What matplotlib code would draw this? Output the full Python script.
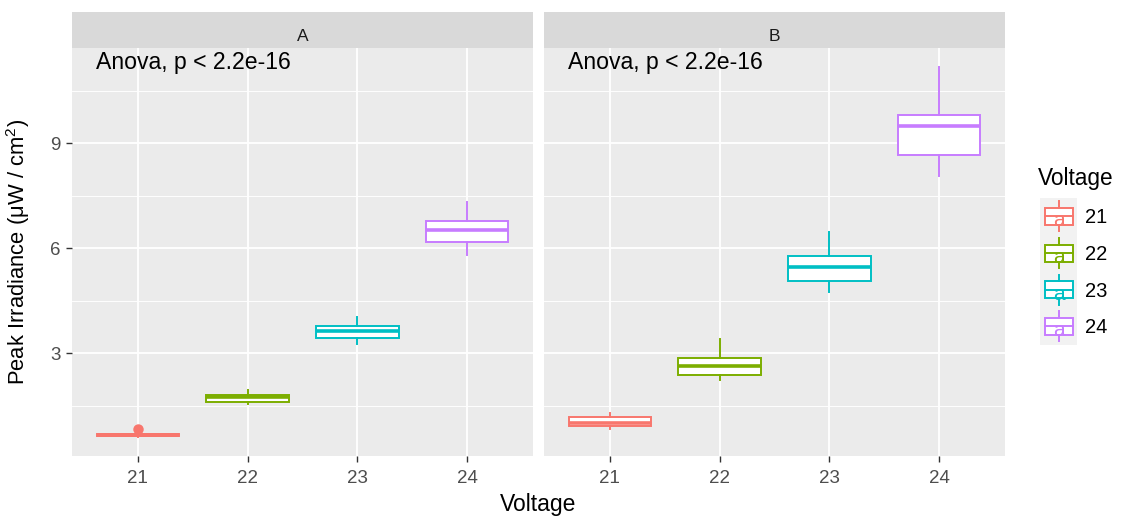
import matplotlib
matplotlib.use("Agg")
import matplotlib.pyplot as plt
from matplotlib.patches import Rectangle
from matplotlib.ticker import FixedLocator

plt.rcParams['font.family'] = ['Liberation Sans', 'DejaVu Sans']
plt.rcParams['mathtext.fontset'] = 'custom'
plt.rcParams['mathtext.rm'] = 'Liberation Sans'
plt.rcParams['mathtext.it'] = 'Liberation Sans'
plt.rcParams['mathtext.default'] = 'regular'

# ---------------- data ----------------
panels = ["A", "B"]
voltages = ["21", "22", "23", "24"]
colors = ["#F8766D", "#7CAE00", "#00BFC4", "#C77CFF"]

# box statistics per panel: whislo, q1, median, q3, whishi
A_whislo = [0.60, 1.55, 3.27, 5.81]
A_q1     = [0.64, 1.61, 3.44, 6.17]
A_med    = [0.67, 1.75, 3.65, 6.52]
A_q3     = [0.69, 1.81, 3.78, 6.79]
A_whishi = [0.74, 1.95, 4.05, 7.33]
A_fliers = [[0.85], [], [], []]

B_whislo = [0.83, 2.24, 4.76, 8.07]
B_q1     = [0.92, 2.38, 5.07, 8.65]
B_med    = [1.00, 2.64, 5.47, 9.49]
B_q3     = [1.17, 2.86, 5.78, 9.81]
B_whishi = [1.30, 3.41, 6.46, 11.18]
B_fliers = [[], [], [], []]

anova_label = "Anova, p < 2.2e-16"
y_ticks = [3, 6, 9]

panel_stats = {
    "A": (A_whislo, A_q1, A_med, A_q3, A_whishi, A_fliers),
    "B": (B_whislo, B_q1, B_med, B_q3, B_whishi, B_fliers),
}

# ---------------- layout ----------------
W, H = 1125, 517
fig = plt.figure(figsize=(W / 100, H / 100), dpi=100)

def rect(x0, y0, x1, y1):
    return [x0 / W, 1 - y1 / H, (x1 - x0) / W, (y1 - y0) / H]

panel_x = {"A": (72, 533), "B": (544, 1005)}
py0, py1 = 48, 456
sy0 = 12
YLIM = (0.066, 11.72)

for p in panels:
    x0, x1 = panel_x[p]
    ax = fig.add_axes(rect(x0, py0, x1, py1))
    ax.set_facecolor("#EBEBEB")
    for s in ax.spines.values():
        s.set_visible(False)

    wl, q1, md, q3, wh, fl = panel_stats[p]
    pos = list(range(1, len(voltages) + 1))
    ax.set_xlim(0.4, len(voltages) + 0.6)
    ax.set_ylim(*YLIM)
    ax.yaxis.set_major_locator(FixedLocator(y_ticks))
    ax.yaxis.set_minor_locator(FixedLocator([1.5, 4.5, 7.5, 10.5]))
    ax.set_xticks(pos)
    ax.set_xticklabels(voltages)
    ax.grid(which="major", color="white", linewidth=1.3)
    ax.grid(which="minor", axis="y", color="white", linewidth=0.65)
    ax.set_axisbelow(True)
    ax.tick_params(axis="both", which="major", colors="#333333", length=4.3,
                   width=1.0, labelsize=13.5, labelcolor="#4D4D4D", pad=4)
    ax.tick_params(axis="x", which="major", pad=6)
    ax.tick_params(axis="both", which="minor", length=0)
    if p != "A":
        ax.tick_params(axis="y", labelleft=False, length=0)
    else:
        ax.set_ylabel("Peak Irradiance (μW / cm$^2$)", fontsize=15.8, color="black",
                      labelpad=13)

    for i in range(len(voltages)):
        st = [dict(whislo=wl[i], q1=q1[i], med=md[i], q3=q3[i], whishi=wh[i], fliers=fl[i])]
        c = colors[i]
        ax.bxp(st, positions=[pos[i]], widths=0.75, patch_artist=True, showcaps=False,
               boxprops=dict(facecolor="white", edgecolor=c, linewidth=1.4),
               medianprops=dict(color=c, linewidth=2.6, solid_capstyle="butt"),
               whiskerprops=dict(color=c, linewidth=1.4),
               flierprops=dict(marker="o", markerfacecolor=c, markeredgecolor=c,
                               markersize=6.5, linestyle="none"),
               manage_ticks=False)

    ax.text(0.62, 11.106, anova_label, ha="left", va="baseline", fontsize=16.6,
            color="black")

    # strip
    sax = fig.add_axes(rect(x0, sy0, x1, py0))
    sax.set_facecolor("#D9D9D9")
    sax.set_xticks([]); sax.set_yticks([])
    for s in sax.spines.values():
        s.set_visible(False)
    sax.text(0.5, 0.194, p, ha="center", va="baseline", fontsize=12.5, color="#1A1A1A",
             transform=sax.transAxes)

fig.text((72 + 1005) / 2 / W, 1 - 505 / H, "Voltage", ha="center", va="center",
         fontsize=16.5, color="black")

# ---------------- legend ----------------
lax = fig.add_axes([0, 0, 1, 1], facecolor="none")
lax.set_xlim(0, W); lax.set_ylim(H, 0); lax.axis("off")
lax.text(1038, 178, "Voltage", ha="left", va="center", fontsize=16.3, color="black")
key_h = 36.7
ky0 = 198
lax.add_patch(Rectangle((1040, ky0), 37, key_h * len(voltages), facecolor="#F2F2F2",
                        edgecolor="none"))
for i, v in enumerate(voltages):
    cy = ky0 + key_h * (i + 0.5)
    c = colors[i]
    lax.plot([1058.5, 1058.5], [cy - 15, cy - 8.5], color=c, lw=1.4)
    lax.plot([1058.5, 1058.5], [cy + 8.5, cy + 15], color=c, lw=1.4)
    lax.add_patch(Rectangle((1045, cy - 8.5), 27.5, 17, facecolor="white", edgecolor=c, lw=1.4))
    lax.plot([1045, 1072.5], [cy, cy], color=c, lw=1.4)
    lax.text(1058.5, cy + 10, "a", ha="center", va="baseline", fontsize=15, color=c)
    lax.text(1085, cy + 1.5, v, ha="left", va="center", fontsize=14.5, color="black")

fig.savefig("out.png", dpi=100, facecolor="white")
